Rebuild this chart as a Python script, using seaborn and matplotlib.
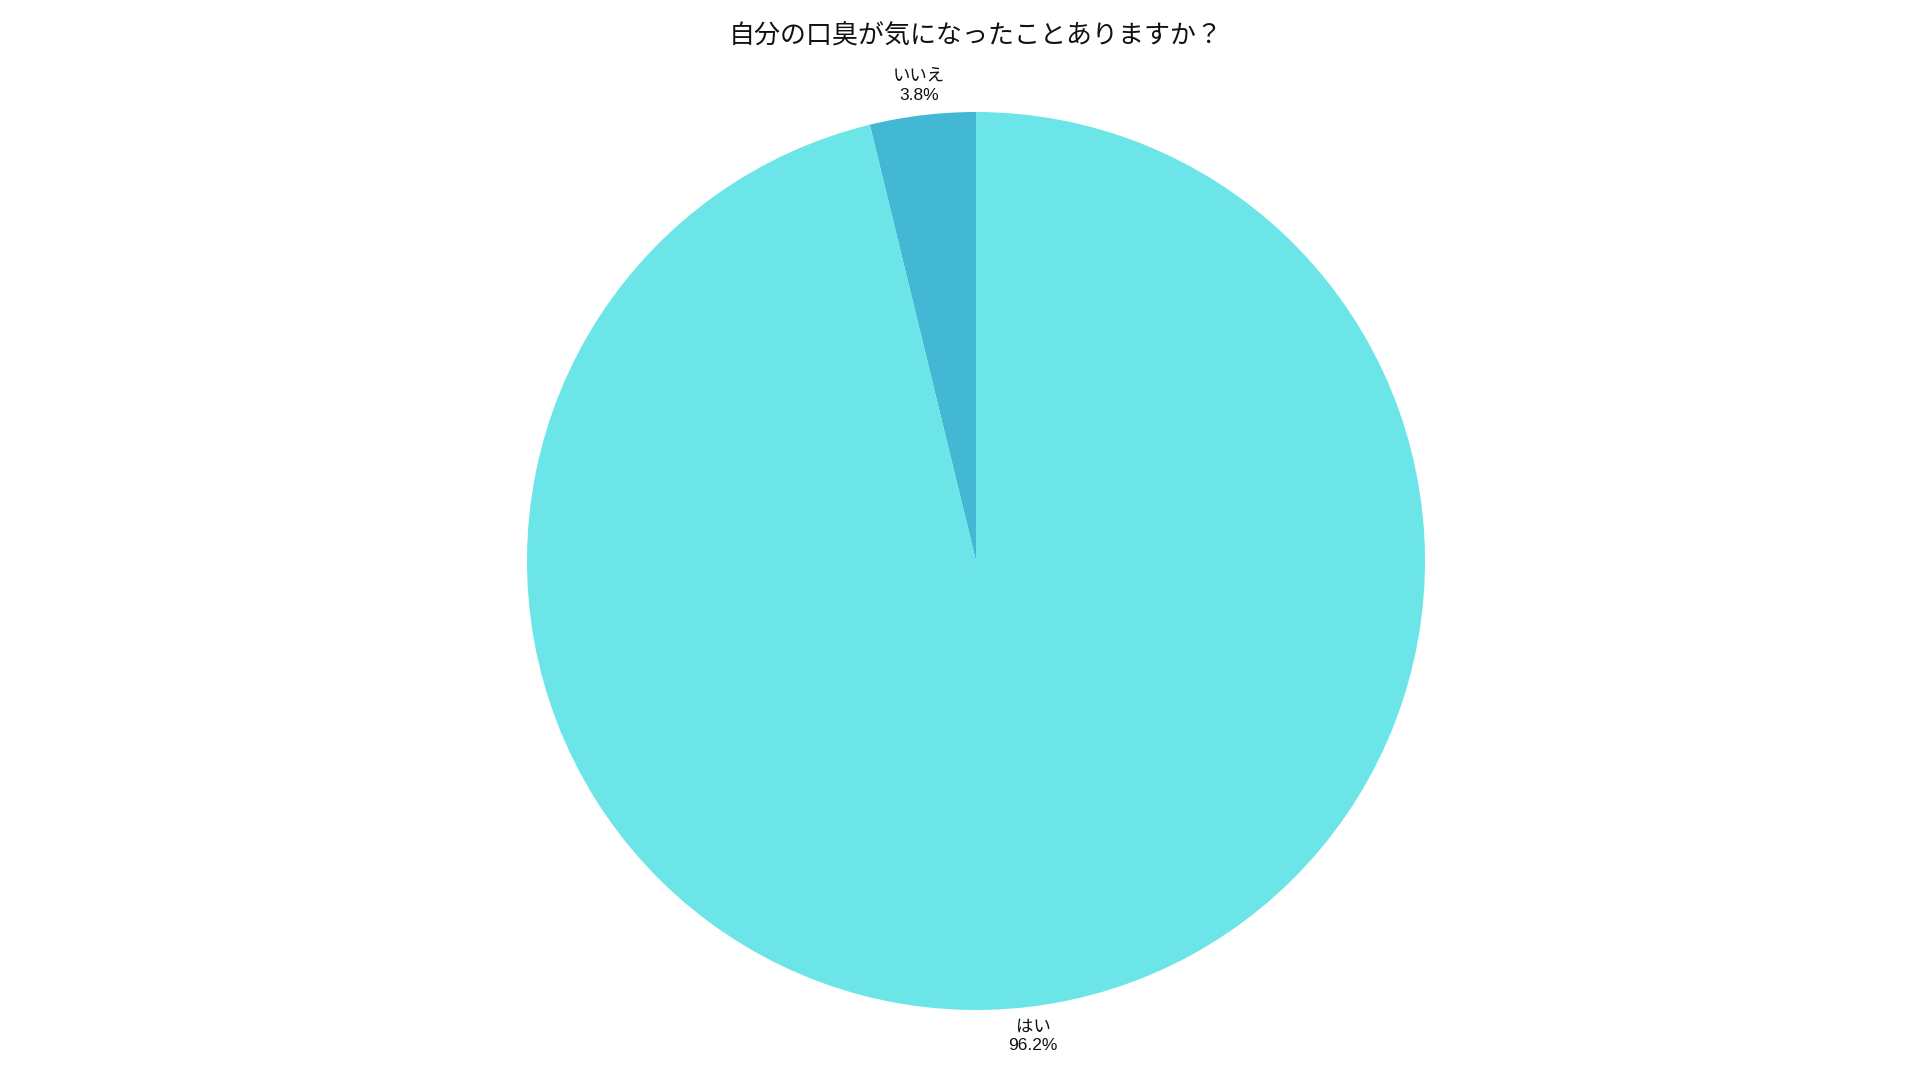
import matplotlib
matplotlib.use('Agg')
import matplotlib.pyplot as plt
import seaborn as sns
import numpy as np

# data
labels = ['いいえ', 'はい']
values = [3.8, 96.2]
colors = ['#42b8d4', '#6be5e8']

sns.set_theme(style='white')
plt.rcParams['font.family'] = ['Liberation Sans', 'Noto Sans CJK JP', 'DejaVu Sans']

fig = plt.figure(figsize=(19.2, 10.8), dpi=100)
ax = fig.add_axes([0, 0, 1, 1])

wedges, _ = ax.pie(values, colors=colors, startangle=90, counterclock=True,
                   radius=1, wedgeprops=dict(linewidth=0))

# labels centred outside each slice
r = 1.066
for w, lab, v in zip(wedges, labels, values):
    ang = np.deg2rad((w.theta1 + w.theta2) / 2)
    ax.text(r * np.cos(ang), r * np.sin(ang), f'{lab}\n{v:.1f}%',
            ha='center', va='center', fontsize=12.5, color='#111111',
            linespacing=1.3)

# place pie: centre at (976, 561) px from top-left, radius 449 px
s = 449
ax.set_xlim(-976 / s, (1920 - 976) / s)
ax.set_ylim(-(1080 - 561) / s, 561 / s)
ax.set_aspect('auto')
ax.axis('off')

fig.text(976 / 1920, 1 - 35 / 1080, '自分の口臭が気になったことありますか？',
         ha='center', va='center', fontsize=18.7, color='#111111')

fig.savefig('out.png', dpi=100, facecolor='white')
